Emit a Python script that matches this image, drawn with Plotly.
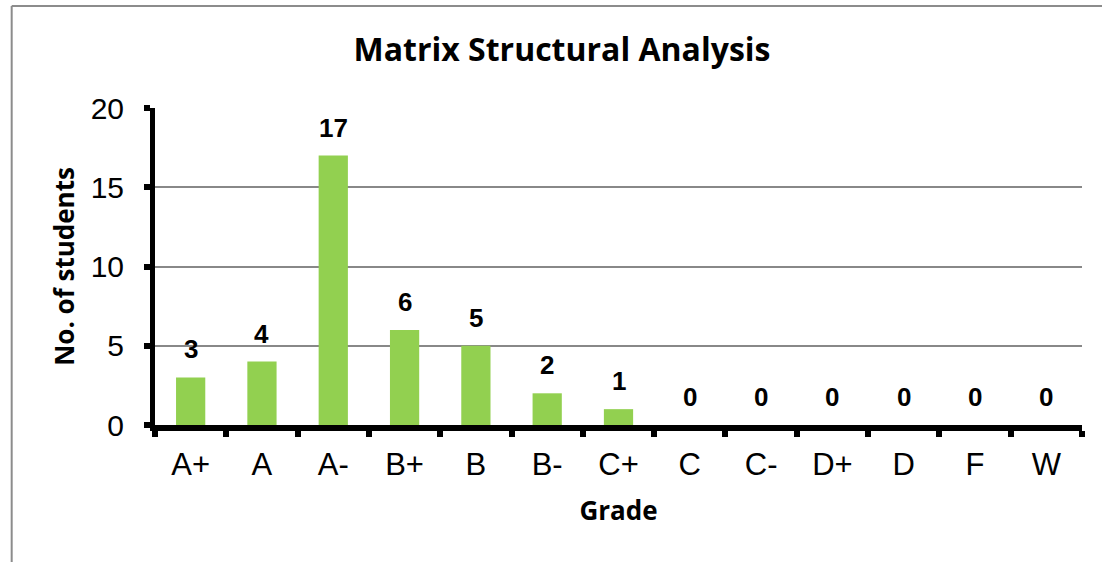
import plotly.graph_objects as go

grades = ["A+", "A", "A-", "B+", "B", "B-", "C+", "C", "C-", "D+", "D", "F", "W"]
students = [3, 4, 17, 6, 5, 2, 1, 0, 0, 0, 0, 0, 0]
y_ticks = [0, 5, 10, 15, 20]

TITLE_FONT = "Open Sans, Lato"
TICK_FONT = "Liberation Sans, Arial"

fig = go.Figure()
fig.add_trace(go.Bar(x=grades, y=students, marker=dict(color="#92D050", line=dict(width=0)),
                     hoverinfo="x+y"))

for g, v in zip(grades, students):
    fig.add_annotation(x=g, y=v, text=f"<b>{v}</b>", showarrow=False, yanchor="bottom",
                       yshift=11, font=dict(family=TICK_FONT, size=26, color="black"))

# chart border (partially visible: top and left edges)
border = dict(color="#8c8c8c", width=2)
fig.add_shape(type="line", xref="paper", yref="paper", x0=-0.1546, x1=1.2, y0=1.322, y1=1.322,
              line=border, layer="above")
fig.add_shape(type="line", xref="paper", yref="paper", x0=-0.1546, x1=-0.1546, y0=-0.6, y1=1.322,
              line=border, layer="above")

fig.update_layout(
    width=1102, height=562,
    margin=dict(l=155, r=20, t=108, b=137),
    paper_bgcolor="white", plot_bgcolor="white",
    bargap=0.59,
    showlegend=False,
    title=dict(text="<b>Matrix Structural Analysis</b>", x=0.51, xanchor="center", y=0.912, yanchor="middle",
               font=dict(family=TITLE_FONT, size=32, color="black")),
    font=dict(family=TICK_FONT, color="black"),
)
fig.update_xaxes(
    type="category", categoryorder="array", categoryarray=grades,
    showline=True, linecolor="black", linewidth=6,
    ticks="outside", tickson="boundaries", ticklen=6, tickwidth=6, tickcolor="black",
    tickfont=dict(family=TICK_FONT, size=31, color="black"),
    ticklabelstandoff=7,
    showgrid=False,
    title=dict(text="<b>Grade</b>", font=dict(family=TITLE_FONT, size=26, color="black"), standoff=23),
)
fig.update_yaxes(
    range=[0, 20], tickvals=y_ticks,
    showline=True, linecolor="black", linewidth=5,
    ticks="outside", ticklen=6, tickwidth=6, tickcolor="black",
    tickfont=dict(family=TICK_FONT, size=30, color="black"),
    ticklabelstandoff=14,
    showgrid=True, gridcolor="#888888", gridwidth=2, zeroline=False,
    title=dict(text="<b>No. of students</b>", font=dict(family=TITLE_FONT, size=26, color="black"), standoff=10),
)

fig.write_html("out.html", config={"displayModeBar": False},
               post_script="document.body.style.margin='0';")
